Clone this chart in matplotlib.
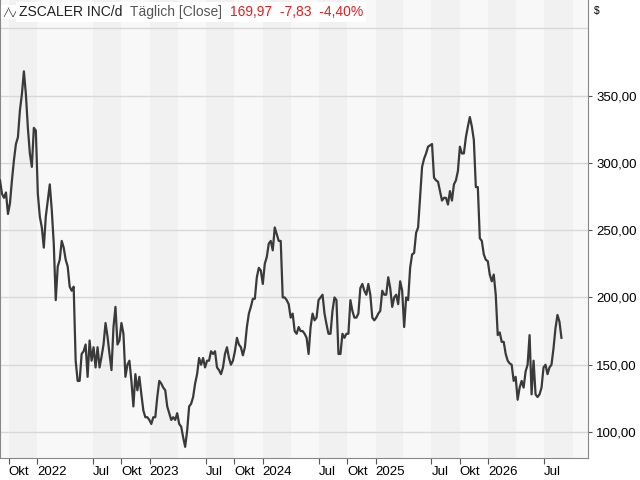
import numpy as np, pandas as pd
import matplotlib; matplotlib.use("Agg")
import matplotlib.pyplot as plt

plt.rcParams["font.family"] = ["Liberation Sans", "DejaVu Sans"]

prices = [
    287, 277, 274, 278, 262, 270, 287, 302, 314, 319, 339, 351, 368, 351, 326, 307, 297, 326, 324, 277,
    260, 252, 237, 260, 272, 284, 265, 240, 198, 223, 228, 242, 237, 228, 223, 208, 205, 208, 153, 138,
    138, 158, 160, 165, 141, 168, 153, 163, 148, 163, 148, 156, 165, 181, 171, 158, 146, 178, 193, 165,
    168, 181, 173, 141, 150, 153, 138, 119, 143, 131, 141, 128, 116, 111, 111, 109, 106, 111, 111, 126,
    138, 136, 133, 131, 119, 114, 109, 111, 109, 114, 106, 104, 96, 89, 101, 119, 121, 126, 136, 143,
    155, 150, 155, 148, 153, 153, 160, 158, 160, 148, 146, 143, 148, 158, 163, 155, 150, 153, 160, 170,
    165, 163, 157, 163, 178, 188, 193, 199, 199, 215, 222, 220, 210, 225, 230, 240, 242, 235, 252, 247,
    242, 242, 200, 200, 198, 195, 185, 188, 175, 173, 178, 175, 175, 173, 170, 158, 178, 188, 183, 185,
    198, 200, 202, 188, 180, 173, 173, 190, 200, 198, 158, 158, 173, 170, 173, 173, 198, 190, 185, 185,
    188, 207, 210, 205, 202, 210, 202, 185, 183, 185, 188, 190, 205, 202, 202, 215, 207, 193, 200, 202,
    195, 212, 205, 178, 200, 198, 222, 232, 233, 248, 252, 274, 297, 303, 307, 312, 313, 314, 289, 287,
    286, 279, 272, 274, 274, 269, 279, 272, 284, 287, 294, 312, 307, 307, 319, 327, 334, 327, 317, 282,
    282, 244, 242, 232, 228, 227, 217, 212, 217, 202, 172, 174, 167, 167, 158, 153, 151, 150, 138, 141,
    124, 133, 138, 133, 145, 150, 172, 128, 153, 128, 126, 128, 133, 148, 150, 143, 148, 150, 162, 177,
    187, 182, 170,
]
dates = pd.date_range("2021-09-03", "2026-08-26", periods=len(prices))

tick_dates = pd.to_datetime([
    "2021-10-01", "2022-01-01", "2022-07-01", "2022-10-01", "2023-01-01", "2023-07-01", "2023-10-01",
    "2024-01-01", "2024-07-01", "2024-10-01", "2025-01-01", "2025-07-01", "2025-10-01", "2026-01-01",
    "2026-07-01",
])
tick_labels = ["Okt", "2022", "Jul", "Okt", "2023", "Jul", "Okt", "2024", "Jul", "Okt", "2025",
               "Jul", "Okt", "2026", "Jul"]
y_ticks = [100, 150, 200, 250, 300, 350]

# dunklere Quartale im Hintergrund
bands = [("2021-10-01", "2022-01-01")] + [
    (f"{y}-{m:02d}-01", f"{y + (m == 10)}-{(m + 3) % 12 or 12:02d}-01")
    for y in range(2022, 2027) for m in (1, 7) if (y, m) != (2022, 1)
]

fig = plt.figure(figsize=(6.4, 4.8), dpi=100)
ax = fig.add_axes([0, 22 / 480, 588 / 640, 1 - 22 / 480])
ax.set_facecolor("#f8f8f8")
for a, b in bands:
    ax.axvspan(pd.Timestamp(a), pd.Timestamp(b), color="#f1f1f1", lw=0, zorder=0)

ax.plot(dates, prices, color="#3a3a3a", lw=1.6, zorder=3)

ax.set_xlim(pd.Timestamp("2021-09-03"), pd.Timestamp("2026-11-20"))
ax.set_ylim(80.7, 421)
ax.set_yticks(y_ticks)
ax.set_yticklabels([f"{v:.2f}".replace(".", ",") for v in y_ticks])
ax.yaxis.tick_right()
ax.grid(axis="y", color="#d8d8d8", lw=1, zorder=1)
ax.axhline(400, color="#d8d8d8", lw=1, zorder=1)
ax.set_xticks(tick_dates)
ax.set_xticklabels(tick_labels, ha="left")
ax.tick_params(axis="both", labelsize=9.5, color="#555555", length=4, direction="out", pad=2)
ax.tick_params(axis="y", length=3, pad=3)
for s in ax.spines.values():
    s.set_color("#888888")
ax.spines["top"].set_visible(False)

fig.text(0.928, 0.978, "$", fontsize=7.5, va="center")
box = dict(facecolor="white", edgecolor="none", pad=2)
icon = fig.text(0.006, 0.975, "╱╲╱", fontsize=6, va="center", color="#222222",
                family="DejaVu Sans", bbox=box)
fig.canvas.draw()
bb = icon.get_window_extent().transformed(fig.transFigure.inverted())
t = fig.text(bb.x1, 0.975, "ZSCALER INC/d  ", fontsize=10, va="center", color="#222222", bbox=box)
bb = t.get_window_extent().transformed(fig.transFigure.inverted())
t2 = fig.text(bb.x1, 0.975, "Täglich [Close]  ", fontsize=10, va="center", color="#555555", bbox=box)
bb = t2.get_window_extent().transformed(fig.transFigure.inverted())
fig.text(bb.x1, 0.975, "169,97  -7,83  -4,40%", fontsize=10, va="center", color="#e02020", bbox=box)

fig.savefig("out.png", dpi=100)
